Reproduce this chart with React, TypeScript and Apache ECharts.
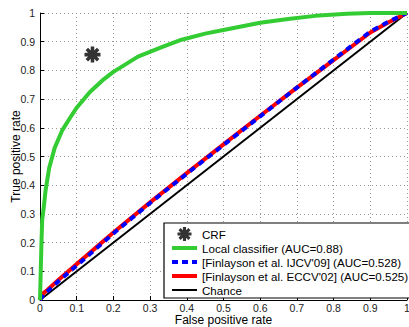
import React, { useEffect, useRef } from "react";
import * as echarts from "echarts";

const crfPoint = [0.143, 0.855];

const localX = [0, 0.002, 0.004, 0.006, 0.01, 0.015, 0.025, 0.04, 0.06, 0.082, 0.1, 0.136, 0.17, 0.2, 0.267, 0.33, 0.386, 0.45, 0.5, 0.6, 0.676, 0.75, 0.836, 0.9, 1];
const localY = [0, 0.1, 0.2, 0.28, 0.32, 0.38, 0.46, 0.53, 0.59, 0.635, 0.67, 0.725, 0.765, 0.795, 0.848, 0.88, 0.907, 0.928, 0.941, 0.966, 0.979, 0.99, 0.997, 1, 1];

const finX = [0, 0.01, 0.02, 0.05, 0.1, 0.2, 0.3, 0.4, 0.5, 0.6, 0.7, 0.8, 0.9, 0.95, 1];
const ijcvY = [0, 0.02, 0.03, 0.065, 0.12, 0.232, 0.338, 0.44, 0.54, 0.64, 0.74, 0.838, 0.935, 0.97, 1];
const eccvY = [0, 0.025, 0.035, 0.07, 0.125, 0.235, 0.34, 0.442, 0.542, 0.642, 0.74, 0.836, 0.932, 0.968, 1];

const chanceX = [0, 1];
const chanceY = [0, 1];

const seriesNames = [
  "CRF",
  "Local classifier (AUC=0.88)",
  "[Finlayson et al. IJCV'09] (AUC=0.528)",
  "[Finlayson et al. ECCV'02] (AUC=0.525)",
  "Chance",
];

const asterisk =
  "path://M0,39H100V61H0Z M39,0H61V100H39Z M6.86,22.42L22.42,6.86L93.14,77.58L77.58,93.14Z M22.42,93.14L6.86,77.58L77.58,6.86L93.14,22.42Z";

const zip = (xs: number[], ys: number[]) => xs.map((x, i) => [x, ys[i]]);

const FONT = "'Liberation Sans', Arial, sans-serif";

export default function App() {
  const ref = useRef<HTMLDivElement>(null);
  useEffect(() => {
    if (!ref.current) return;
    const chart = echarts.init(ref.current, undefined, { renderer: "svg" });
    const axisCommon = {
      min: 0,
      max: 1,
      interval: 0.1,
      axisLine: { show: true, onZero: false, lineStyle: { color: "#000", width: 1 } },
      axisTick: { show: true, inside: true, length: 4, lineStyle: { color: "#000" } },
      axisLabel: {
        color: "#222",
        fontSize: 10.5,
        lineHeight: 11,
        fontFamily: FONT,
        formatter: (v: number) => String(Math.round(v * 10) / 10),
      },
      splitLine: { show: true, lineStyle: { color: "#999", type: [1, 3], width: 1 } },
      nameLocation: "middle" as const,
      nameMoveOverlap: false,
      nameTextStyle: { color: "#000", fontSize: 12, lineHeight: 12, fontFamily: FONT },
    };
    const lineLegend = (name: string, color: string, width: number, type: any = "solid") => ({
      name,
      itemStyle: { opacity: 0, color: "transparent", borderWidth: 0 },
      lineStyle: { color, width, type, opacity: 1 },
    });
    chart.setOption({
      animation: false,
      backgroundColor: "#fff",
      grid: { left: 40, right: 2, top: 13, bottom: 27, containLabel: false, outerBoundsMode: "none" },
      xAxis: {
        type: "value",
        ...axisCommon,
        name: "False positive rate",
        nameGap: 14,
        axisLabel: { ...axisCommon.axisLabel, margin: 2 },
      },
      yAxis: {
        type: "value",
        ...axisCommon,
        name: "True positive rate",
        nameGap: 18,
        axisLabel: { ...axisCommon.axisLabel, margin: 5 },
      },
      legend: {
        data: [
          { name: seriesNames[0] },
          lineLegend(seriesNames[1], "#33cc33", 4),
          lineLegend(seriesNames[2], "#0000ff", 4, [6, 4]),
          lineLegend(seriesNames[3], "#ff0000", 4),
          lineLegend(seriesNames[4], "#000", 2),
        ],
        orient: "vertical",
        left: 164,
        top: 223,
        padding: [4, 6, 1, 6],
        itemGap: 0,
        itemWidth: 25,
        itemHeight: 14,
        borderColor: "#000",
        borderWidth: 1.2,
        borderRadius: 0,
        backgroundColor: "#fff",
        selectedMode: false,
        textStyle: { color: "#000", fontSize: 11.6, fontFamily: FONT, lineHeight: 14 },
      },
      series: [
        {
          name: seriesNames[4],
          type: "line",
          data: zip(chanceX, chanceY),
          symbol: "none",
          lineStyle: { color: "#000", width: 2 },
          itemStyle: { color: "#000" },
        },
        {
          name: seriesNames[3],
          type: "line",
          data: zip(finX, eccvY),
          symbol: "none",
          lineStyle: { color: "#ff0000", width: 4 },
          itemStyle: { color: "#ff0000" },
        },
        {
          name: seriesNames[2],
          type: "line",
          data: zip(finX, ijcvY),
          symbol: "none",
          lineStyle: { color: "#0000ff", width: 4, type: [6, 5] },
          itemStyle: { color: "#0000ff" },
        },
        {
          name: seriesNames[1],
          type: "line",
          data: zip(localX, localY),
          symbol: "none",
          lineStyle: { color: "#33cc33", width: 4, join: "round" },
          itemStyle: { color: "#33cc33" },
        },
        {
          name: seriesNames[0],
          type: "scatter",
          data: [crfPoint],
          symbol: asterisk,
          symbolSize: 16,
          itemStyle: { color: "#000" },
        },
      ],
    });
    return () => chart.dispose();
  }, []);
  return (
    <div
      ref={ref}
      style={{ position: "fixed", left: 0, top: 0, width: 409, height: 327, background: "#fff" }}
    />
  );
}
